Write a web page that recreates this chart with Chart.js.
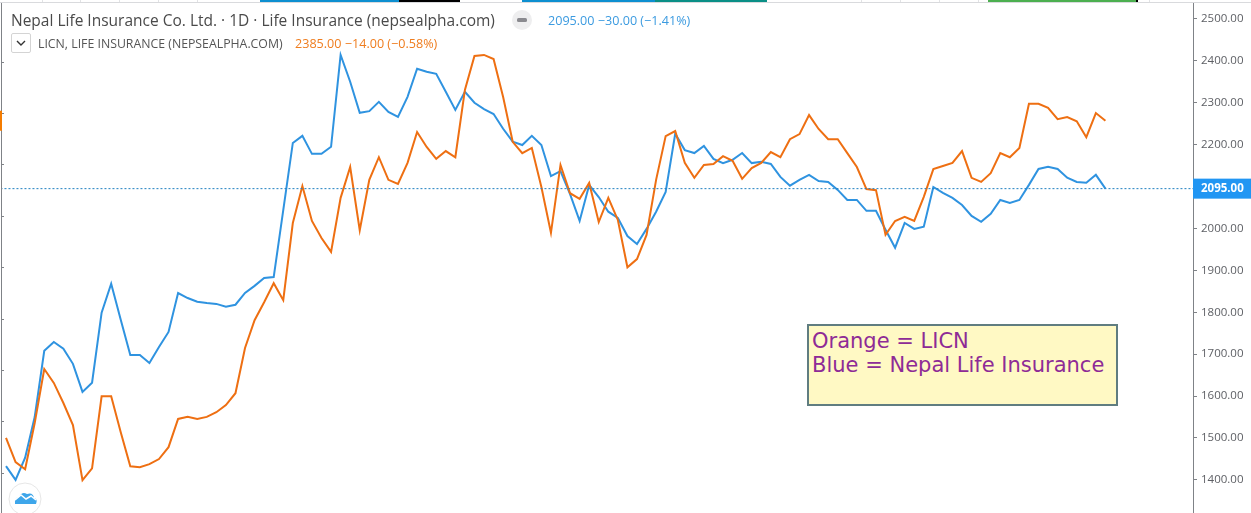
<!DOCTYPE html>
<html>
<head>
<meta charset="utf-8">
<title>Nepal Life Insurance vs LICN</title>
<script src="https://cdn.jsdelivr.net/npm/chart.js@4"></script>
<style>
  html, body { margin: 0; padding: 0; background: #fff; overflow: hidden; }
  body { width: 1251px; height: 513px; position: relative; font-family: "Open Sans", sans-serif; }
  canvas { position: absolute; left: 0; top: 0; }
  .topline { position: absolute; left: 0; top: 2px; width: 1251px; height: 1px; background: #d9dadd; }
  .seg { position: absolute; top: 0; height: 2px; }
  .tk { position: absolute; top: 0; width: 1px; height: 2px; background: #e2e3e5; }
  .title { position: absolute; left: 11px; top: 9px; font-size: 15.5px; color: #4a4a4a; white-space: nowrap; }
  .sub { position: absolute; left: 38px; top: 35px; font-size: 12.3px; color: #555; white-space: nowrap; }
  .vals { position: absolute; white-space: nowrap; font-size: 12.6px; }
  .chev { position: absolute; left: 11px; top: 33px; width: 20px; height: 20px; border: 1px solid #d4d4d4; border-radius: 2px; box-sizing: border-box; background: #fff; }
  .note { position: absolute; left: 807px; top: 324px; width: 311px; height: 82px; box-sizing: border-box; background: #fff9c4; border: 2px solid #607d80; color: #8e2b96; font-family: "DejaVu Sans", sans-serif; font-size: 21px; line-height: 24px; padding: 3px 0 0 3px; white-space: nowrap; }
  .logo { position: absolute; left: 8px; top: 482px; }
  .dash { position: absolute; left: 511px; top: 9px; }
</style>
</head>
<body>
<canvas id="c" width="1251" height="513"></canvas>
<div class="topline"></div>
<div class="tk" style="left:42px"></div>
<div class="tk" style="left:80px"></div>
<div class="tk" style="left:119px"></div>
<div class="tk" style="left:158px"></div>
<div class="tk" style="left:197px"></div>
<div class="tk" style="left:861px"></div>
<div class="tk" style="left:900px"></div>
<div class="tk" style="left:939px"></div>
<div class="tk" style="left:978px"></div>
<div class="tk" style="left:1149px"></div>
<div class="seg" style="left:260px;width:139px;background:#0d8fd0"></div>
<div class="seg" style="left:399px;width:61px;background:#000"></div>
<div class="seg" style="left:522px;width:133px;background:#0d8fd0"></div>
<div class="seg" style="left:655px;width:112px;background:#0a8f86"></div>
<div class="seg" style="left:988px;width:148px;background:#4caf50"></div>
<div class="seg" style="left:1136px;width:2px;background:#000"></div>
<div class="title">Nepal Life Insurance Co. Ltd. · 1D · Life Insurance (nepsealpha.com)</div>
<svg class="dash" width="22" height="22"><circle cx="11" cy="11" r="10" fill="#eeeeef"/><rect x="6" y="9" width="10" height="4" rx="1.5" fill="#8a8a8f"/></svg>
<div class="vals" style="left:548px;top:12px;color:#3c9be0">2095.00 −30.00 (−1.41%)</div>
<div class="chev"><svg width="18" height="18"><path d="M5 7 L9 11 L13 7" fill="none" stroke="#333" stroke-width="1.4"/></svg></div>
<div class="sub">LICN, LIFE INSURANCE (NEPSEALPHA.COM)</div>
<div class="vals" style="left:295px;top:35px;color:#ef7d1f">2385.00 −14.00 (−0.58%)</div>
<div class="note">Orange = LICN<br>Blue = Nepal Life Insurance</div>
<svg class="logo" width="34" height="34"><circle cx="17" cy="17" r="16" fill="#fff" stroke="#e6e6e6"/><path d="M7 22 Q6 16 11 15 Q14 9 19 12 Q25 10 26 16 Q30 17 28 22 Z" fill="#3ea6ea"/><path d="M7 18 L13 13 L18 17 L23 14 L28 18" fill="none" stroke="#fff" stroke-width="1.5"/></svg>

<script>
// values, one per trading day
const nepalLife = [
  1433,1400,1453,1550,1708,1729,1713,1677,1610,1632,1799,1868,1782,1698,1698,1679,1717,1753,1846,1834,
  1825,1822,1820,1813,1818,1846,1863,1882,1884,2044,2204,2221,2178,2178,2195,2414,2350,2276,2280,2302,
  2278,2266,2314,2381,2374,2369,2326,2283,2326,2300,2285,2273,2238,2207,2199,2221,2199,2125,2137,2082,
  2018,2104,2075,2040,2025,1982,1963,1999,2040,2087,2226,2187,2180,2197,2166,2156,2164,2180,2156,2159,
  2154,2123,2102,2116,2128,2113,2111,2092,2068,2068,2042,2042,1997,1954,2013,1999,2004,2099,2085,2073,
  2056,2030,2016,2035,2068,2061,2068,2104,2142,2147,2142,2121,2111,2109,2128,2095
];
const licn = [
  1768,1721,1707,1797,1902,1875,1836,1793,1686,1709,1849,1849,1779,1713,1711,1717,1727,1750,1805,1809,
  1805,1809,1818,1832,1855,1943,1997,2032,2069,2036,2186,2258,2190,2157,2130,2235,2295,2172,2270,2314,
  2270,2262,2303,2363,2334,2311,2326,2314,2445,2511,2513,2505,2431,2344,2322,2332,2256,2167,2299,2244,
  2233,2264,2188,2235,2192,2100,2116,2163,2270,2355,2365,2303,2274,2299,2301,2316,2307,2272,2293,2303,
  2324,2314,2349,2359,2396,2369,2349,2349,2322,2295,2252,2250,2163,2190,2198,2190,2237,2291,2297,2303,
  2326,2274,2266,2283,2322,2314,2332,2418,2418,2410,2388,2392,2384,2353,2400,2385
];
const rightTicks = [2500,2400,2300,2200,2100,2000,1900,1800,1700,1600,1500,1400];
const leftTicks = [2500,2400,2300,2200,2100,2000,1900,1800,1700];
const lastPrice = 2095;
const blue = '#2f93e0', orange = '#ee6f12', axisGrey = '#7f8287';

function toPoints(arr){ return arr.map((v,i) => ({x:i, y:v})); }

// left scale has no labels in the screenshot, only a line and ticks; also the price tags
const extras = {
  id: 'extras',
  afterDraw(chart){
    const ctx = chart.ctx, yl = chart.scales.yLeft, yr = chart.scales.yRight, area = chart.chartArea;
    ctx.save();
    ctx.strokeStyle = axisGrey; ctx.lineWidth = 1;
    ctx.beginPath();
    ctx.moveTo(1.5, area.top); ctx.lineTo(1.5, area.bottom);
    leftTicks.forEach(t => {
      const y = Math.round(yl.getPixelForValue(t)) + 0.5;
      ctx.moveTo(1, y); ctx.lineTo(4, y);
    });
    ctx.stroke();
    const y0 = yl.getPixelForValue(licn[licn.length-1]);
    ctx.fillStyle = '#f57c00';
    ctx.fillRect(0, y0 - 10, 2, 20);
    const py = yr.getPixelForValue(lastPrice);
    ctx.fillStyle = '#2196f3';
    ctx.fillRect(area.right, py - 10, chart.width - area.right, 20);
    ctx.fillStyle = '#fff';
    ctx.font = 'bold 11.5px "Open Sans", sans-serif';
    ctx.textBaseline = 'middle';
    ctx.fillText(lastPrice.toFixed(2), 1201, py + 0.5);
    ctx.restore();
  }
};

new Chart(document.getElementById('c').getContext('2d'), {
  type: 'line',
  data: {
    datasets: [
      { data: [{x:-1,y:lastPrice},{x:125,y:lastPrice}], yAxisID:'yRight', borderColor:'#1f7fc0', borderWidth:1, borderDash:[2,2], pointRadius:0 },
      { label:'LICN', data: toPoints(licn), yAxisID:'yLeft', borderColor:orange, borderWidth:2, pointRadius:0, tension:0 },
      { label:'Nepal Life Insurance', data: toPoints(nepalLife), yAxisID:'yRight', borderColor:blue, borderWidth:2, pointRadius:0, tension:0 }
    ]
  },
  options: {
    responsive: false,
    animation: false,
    layout: { padding: { left:2, top:3, right:0, bottom:0 } },
    plugins: { legend:{display:false}, tooltip:{enabled:false} },
    scales: {
      x: { type:'linear', display:false, min:-0.42, max:124.16 },
      yLeft: { position:'left', display:false, min:1622, max:2614, afterBuildTicks(s){ s.ticks = leftTicks.map(v => ({value:v})); } },
      yRight: {
        position:'right', min:1321, max:2538,
        afterBuildTicks(s){ s.ticks = rightTicks.map(v => ({value:v})); },
        afterFit(s){ s.width = 58; s.paddingTop = 0; s.paddingBottom = 0; },
        border: { color:axisGrey },
        grid: { drawOnChartArea:false, tickLength:4, color:axisGrey },
        ticks: { padding:4, autoSkip:false, color:'#5d5f64', font:{family:'"Open Sans", sans-serif', size:11.5}, callback:v => v.toFixed(2) }
      }
    }
  },
  plugins: [extras]
});
</script>
</body>
</html>
